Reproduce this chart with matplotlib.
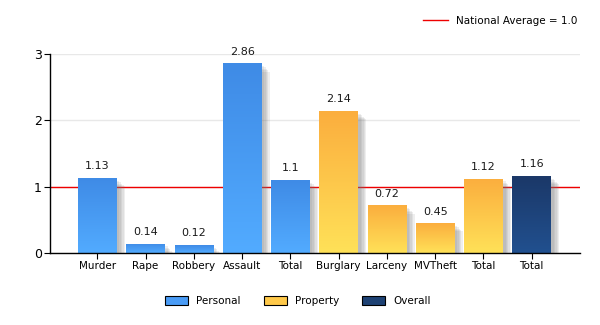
''' Crime rate relative to national average '''
import matplotlib
matplotlib.use('Agg')
import matplotlib.pyplot as plt
import matplotlib.patheffects as pe
from matplotlib.patches import Patch
from matplotlib.lines import Line2D
import numpy as np

categories = ['Murder', 'Rape', 'Robbery', 'Assault', 'Total',
              'Burglary', 'Larceny', 'MVTheft', 'Total', 'Total']
values = [1.13, 0.14, 0.12, 2.86, 1.1, 2.14, 0.72, 0.45, 1.12, 1.16]
groups = ['Personal'] * 5 + ['Property'] * 4 + ['Overall']
labels = ['1.13', '0.14', '0.12', '2.86', '1.1', '2.14', '0.72', '0.45', '1.12', '1.16']
national_avg = 1.0

# (top colour, bottom colour, legend colour)
colors = {
    'Personal': ('#3F8BE6', '#52ABFF', '#4A9CF6'),
    'Property': ('#FBAE3E', '#FFE158', '#FFC94A'),
    'Overall': ('#1B3868', '#21508F', '#1E4274'),
}

plt.rcParams['font.family'] = ['DejaVu Sans']

fig = plt.figure(figsize=(6, 3.25), dpi=100)
ax = fig.add_axes([50 / 600, 1 - 253 / 325, 530 / 600, 199 / 325])

x = np.arange(1, len(categories) + 1)
width = 0.8

# soft shadow: a few stacked faint offsets
shadow = [pe.SimplePatchShadow(offset=(o, -o), shadow_rgbFace='#777777', alpha=0.12)
          for o in (2, 3, 4, 5, 6)]

for xi, val, grp, lab in zip(x, values, groups, labels):
    top, bottom, _ = colors[grp]
    bar = ax.bar(xi, val, width, color=top, zorder=3,
                 path_effects=shadow + [pe.Normal()])[0]
    grad = np.linspace(0, 1, 100).reshape(-1, 1)
    cmap = matplotlib.colors.LinearSegmentedColormap.from_list('g', [bottom, top])
    im = ax.imshow(grad, cmap=cmap, aspect='auto', origin='lower',
                   extent=(xi - width / 2, xi + width / 2, 0, val), zorder=4)
    im.set_clip_path(bar)
    ax.text(xi, val + 0.1, lab, ha='center', va='bottom', fontsize=8, color='#1a1a1a', zorder=6)

ax.set_xlim(0.02, 11.0)
ax.set_ylim(0, 3)

ax.axhline(national_avg, color='#EE0000', lw=1, zorder=2)
ax.yaxis.grid(True, color='#E8E8E8', lw=1, zorder=0)
ax.set_axisbelow(True)

ax.set_xticks(x)
ax.set_xticklabels(categories, fontsize=7.5)
ax.set_yticks([0, 1, 2, 3])
ax.tick_params(axis='y', labelsize=9, length=4, pad=2)
ax.tick_params(axis='x', length=4, pad=2)
for side in ('top', 'right'):
    ax.spines[side].set_visible(False)
for side in ('left', 'bottom'):
    ax.spines[side].set_linewidth(1)
    ax.spines[side].set_zorder(7)

top_handles = [Line2D([0], [0], color='#EE0000', lw=1)]
fig.legend(top_handles, ['National Average = 1.0'], loc='center', bbox_to_anchor=(500 / 600, 1 - 21 / 325),
           frameon=False, fontsize=7.5, handlelength=2.4)

patch_handles = [Patch(facecolor=colors[g][2], edgecolor='black', lw=0.8)
                 for g in ('Personal', 'Property', 'Overall')]
fig.legend(patch_handles, ['Personal', 'Property', 'Overall'], loc='center',
           bbox_to_anchor=(298 / 600, 1 - 301 / 325), ncol=3, frameon=False,
           fontsize=7.5, handlelength=2.2, handleheight=0.9, columnspacing=2.2)

fig.savefig('out.png', dpi=100)
